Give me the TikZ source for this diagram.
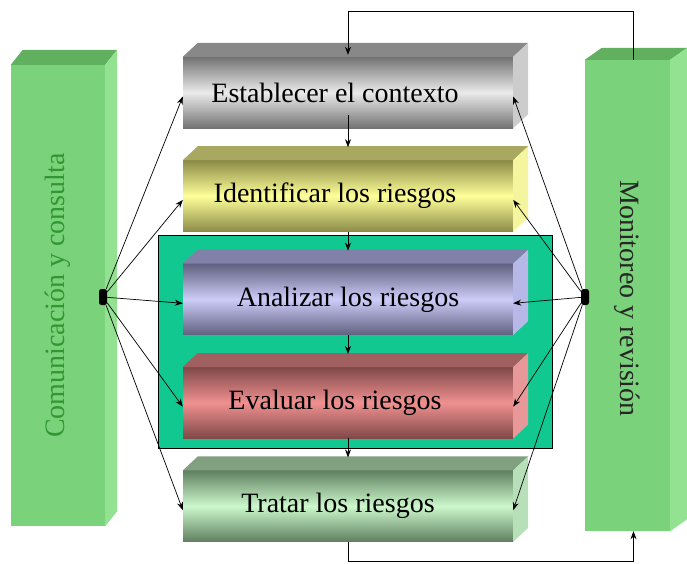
\documentclass[tikz,border=0pt]{standalone}
\usepackage{fontspec}
\setmainfont{Liberation Serif}
\usetikzlibrary{positioning,shapes,arrows,arrows.meta}

\definecolor{panelteal}{RGB}{16,200,144}
\definecolor{pilFront}{RGB}{122,210,122}
\definecolor{pilSide}{RGB}{146,226,146}
\definecolor{pilTop}{RGB}{96,176,96}
\definecolor{comtext}{RGB}{50,150,50}
\definecolor{estTop}{RGB}{136,136,136}
\definecolor{estSide}{RGB}{204,204,204}
\definecolor{ideTop}{RGB}{168,168,96}
\definecolor{ideSide}{RGB}{245,245,160}
\definecolor{anaTop}{RGB}{128,128,168}
\definecolor{anaSide}{RGB}{184,184,232}
\definecolor{evaTop}{RGB}{160,96,96}
\definecolor{evaSide}{RGB}{232,152,152}
\definecolor{traTop}{RGB}{128,160,128}
\definecolor{traSide}{RGB}{184,224,184}

\begin{document}
\begin{tikzpicture}[x=1pt,y=-1pt,
  mybox/.style={rectangle,minimum width=330pt,minimum height=71pt,inner sep=0pt,
    font=\fontsize{28}{30}\selectfont},
  myboxg/.style={mybox,top color=black!55,bottom color=black!55,middle color=black!8},
  myboxy/.style={mybox,top color={rgb,255:red,140;green,140;blue,72},bottom color={rgb,255:red,140;green,140;blue,72},middle color={rgb,255:red,255;green,255;blue,153}},
  myboxl/.style={mybox,top color={rgb,255:red,96;green,96;blue,128},bottom color={rgb,255:red,96;green,96;blue,128},middle color={rgb,255:red,204;green,204;blue,248}},
  myboxr/.style={mybox,top color={rgb,255:red,128;green,72;blue,72},bottom color={rgb,255:red,128;green,72;blue,72},middle color={rgb,255:red,240;green,144;blue,144}},
  myboxm/.style={mybox,top color={rgb,255:red,96;green,128;blue,96},bottom color={rgb,255:red,96;green,128;blue,96},middle color={rgb,255:red,204;green,248;blue,204}},
  pillar/.style={rectangle,fill=pilFront,inner sep=0pt},
  pillartext/.style={font=\fontsize{28}{30}\selectfont,inner sep=0pt},
  hub/.style={rectangle,rounded corners=2.5pt,fill=black,minimum width=8pt,minimum height=16pt,inner sep=0pt},
  flow/.style={-{Stealth[length=8pt,width=6pt]},line width=0.7pt,black}
]
\useasboundingbox (0,0) rectangle (687,563);

% panel behind the analysis steps
\draw[fill=panelteal,line width=0.7pt] (158,235) rectangle (552,448);

% pillars
\node[pillar,minimum width=94pt,minimum height=461pt] (com) at (58,295.5) {};
\node[pillar,minimum width=85pt,minimum height=471pt] (mon) at (627.5,295.5) {};
\fill[pilTop] (com.north west) -- ++(12,-15) -- ([shift={(12,-15)}]com.north east) -- (com.north east) -- cycle;
\fill[pilSide] (com.north east) -- ++(12,-15) -- ([shift={(12,-15)}]com.south east) -- (com.south east) -- cycle;
\fill[pilTop] (mon.north west) -- ++(17,-12) -- ([shift={(17,-12)}]mon.north east) -- (mon.north east) -- cycle;
\fill[pilSide] (mon.north east) -- ++(17,-12) -- ([shift={(17,-12)}]mon.south east) -- (mon.south east) -- cycle;
\node[pillartext,rotate=90,text=comtext] (comtxt) at (com) {Comunicación y consulta};
\node[pillartext,rotate=-90,text=black!85] (montxt) at ([yshift=-3pt]mon) {Monitoreo y revisión};

% steps
\node[myboxg] at (348,92.5) (est) {\hspace*{-26pt}Establecer el contexto};
\node[myboxy, below=32pt of est] (ide) {\hspace*{-26pt}Identificar los riesgos};
\node[myboxl, below=32pt of ide] (ana) {Analizar los riesgos};
\node[myboxr, below=32pt of ana] (eva) {\hspace*{-26pt}Evaluar los riesgos};
\node[myboxm, below=32pt of eva] (tra) {\hspace*{-20pt}Tratar los riesgos};

\foreach \n in {est,ide,ana,eva,tra}{
\fill[\n Top] (\n.north west) -- ++(15,-14) -- ([shift={(15,-14)}]\n.north east) -- (\n.north east) -- cycle;
\fill[\n Side] (\n.north east) -- ++(15,-14) -- ([shift={(15,-14)}]\n.south east) -- (\n.south east) -- cycle;
}

% hubs
\node[hub] at (103,297) (hubL) {};
\node[hub] at (585,297) (hubR) {};

\foreach \n in {est,ide,ana,eva,tra}{
\draw[flow] (hubL) -- ([yshift=-4pt]\n.west);
\draw[flow] (hubR) -- ([yshift=-4pt]\n.east);
}

\draw[flow] ([yshift=13pt]est.south) -- ([yshift=13pt]ide.north);
\foreach \a/\b in {ide/ana,ana/eva,eva/tra}{
\draw[flow] (\a.south) -- ([yshift=13pt]\b.north);
}

% feedback loop
\draw[flow] ([xshift=6pt]mon.north) -- ++(0,-48) -| ([yshift=2pt]est.north);
\draw[flow] (tra.south) -- ++(0,20) -| ([xshift=6pt]mon.south);

\end{tikzpicture}
\end{document}
